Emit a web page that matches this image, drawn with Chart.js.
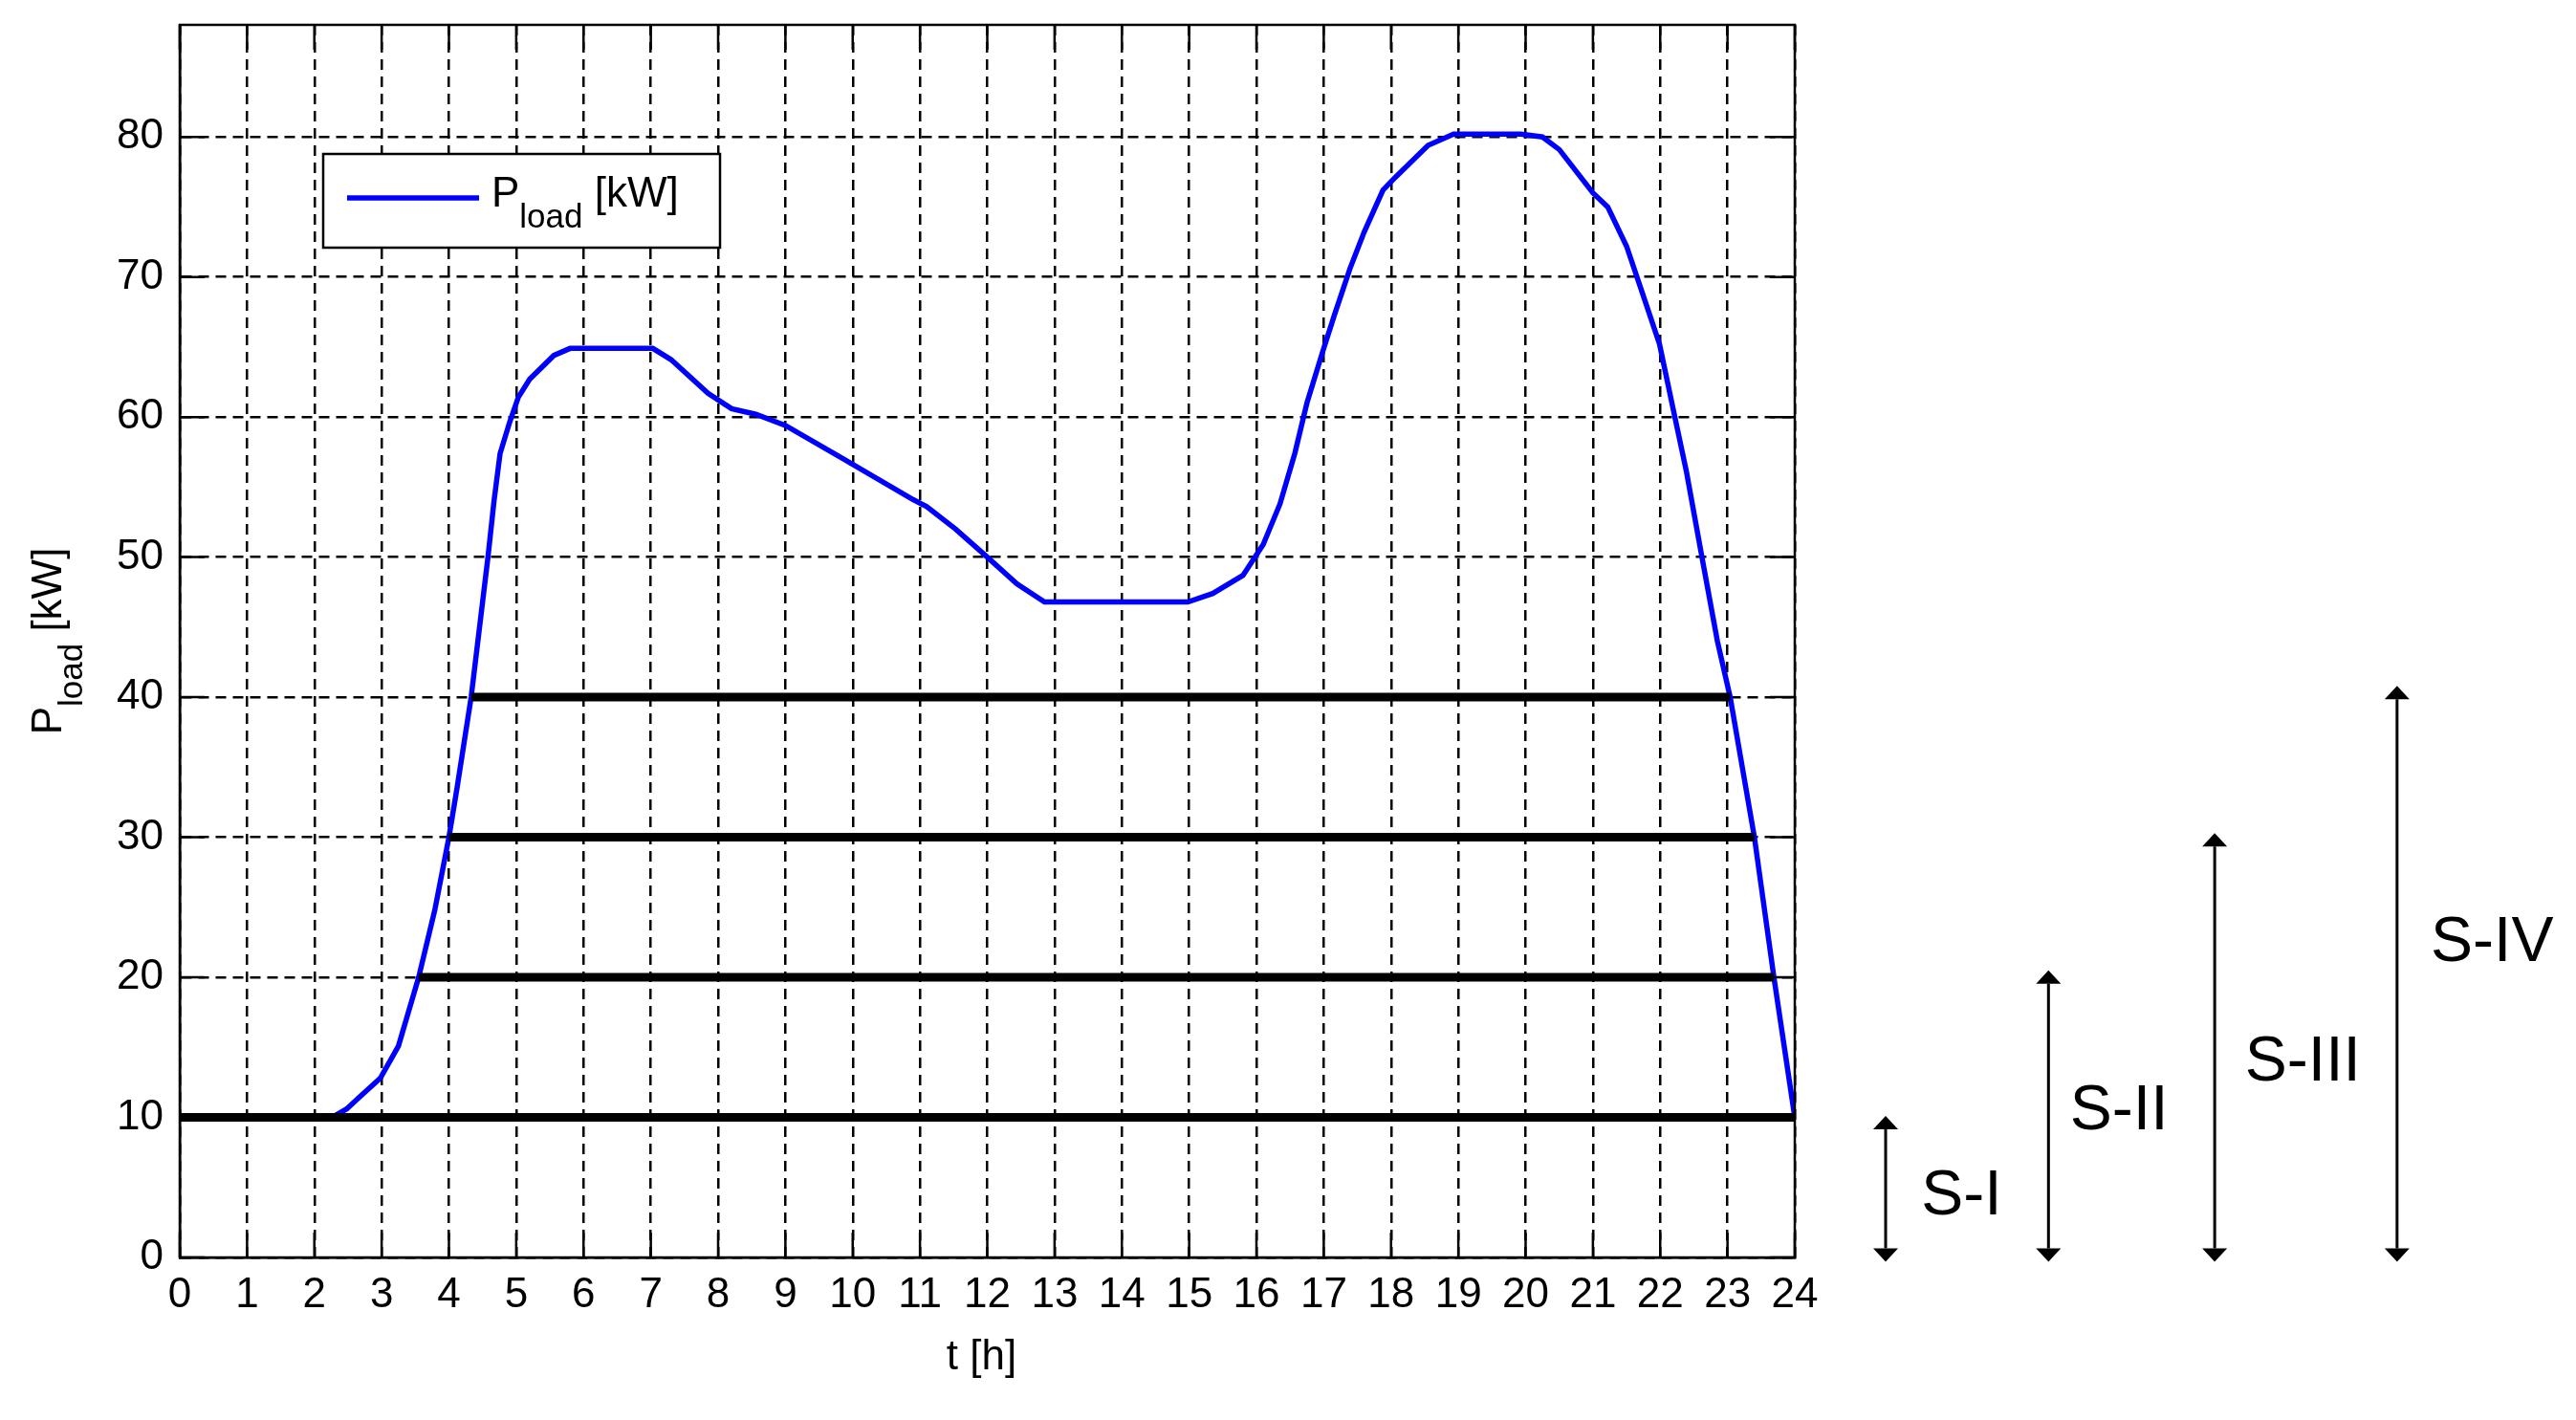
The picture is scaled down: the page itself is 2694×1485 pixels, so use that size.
<!DOCTYPE html>
<html>
<head>
<meta charset="utf-8">
<script src="https://cdn.jsdelivr.net/npm/chart.js@4.4.1/dist/chart.umd.min.js"></script>
<style>
  html, body { margin: 0; padding: 0; background: #fff; }
  #wrap { width: 2694px; height: 1485px; }
</style>
</head>
<body>
<div id="wrap"><canvas id="loadChart" width="2694" height="1485"></canvas></div>
<script>
// daily load profile
const loadHours = [
  2.26, 2.48, 2.66, 2.98, 3.25, 3.55, 3.79, 4.00, 4.12, 4.33,
  4.58, 4.67, 4.76, 4.90, 5.03, 5.20, 5.56, 5.80, 7.03, 7.30,
  7.85, 8.20, 8.56, 9.00, 9.83, 10.90, 11.10, 11.53, 12.00, 12.44,
  12.85, 14.98, 15.35, 15.80, 16.10, 16.35, 16.57, 16.75, 16.98, 17.16,
  17.39, 17.60, 17.88, 18.06, 18.55, 18.93, 19.93, 20.25, 20.50, 21.00,
  21.22, 21.50, 21.76, 21.99, 22.20, 22.39, 22.62, 22.85, 23.04, 23.40,
  23.69, 24.00,
];
const loadKw = [
  10.0, 10.6, 11.4, 12.8, 15.1, 20.0, 24.8, 30.0, 33.5, 40.0,
  50.0, 54.0, 57.4, 59.6, 61.4, 62.7, 64.4, 64.9, 64.9, 64.1,
  61.7, 60.6, 60.2, 59.4, 57.1, 54.1, 53.6, 52.0, 50.0, 48.1,
  46.8, 46.8, 47.4, 48.7, 50.9, 53.8, 57.4, 61.0, 64.6, 67.3,
  70.6, 73.2, 76.2, 77.1, 79.4, 80.2, 80.2, 80.0, 79.1, 76.0,
  75.0, 72.2, 68.5, 65.2, 60.4, 56.1, 50.0, 44.0, 40.0, 30.0,
  20.0, 10.0,
];

// stage thresholds (thick black lines)
const levelKw = [10, 20, 30, 40];
const levelFromHour = [0, 3.55, 4.0, 4.33];
const levelToHour = [24, 23.69, 23.4, 23.04];

// stage arrows to the right of the axes
const stageNames = ['S-I', 'S-II', 'S-III', 'S-IV'];
const stageArrowHour = [25.35, 27.77, 30.24, 32.95];
const stageArrowTopKw = [10.1, 20.5, 30.3, 40.8];
const stageArrowBottomKw = -0.3;
const stageLabelHour = [25.88, 28.09, 30.69, 33.45];
const stageLabelKw = [4.3, 10.4, 13.9, 22.4];

const hourTicks = [0, 1, 2, 3, 4, 5, 6, 7, 8, 9, 10, 11, 12, 13, 14, 15, 16, 17, 18, 19, 20, 21, 22, 23, 24];
const kwTicks = [0, 10, 20, 30, 40, 50, 60, 70, 80];

const FONT = '"Liberation Sans", Arial, sans-serif';

function pLoadParts(size) {
  return [
    { text: 'P', size: size, dy: 0 },
    { text: 'load', size: Math.round(size * 0.8), dy: Math.round(size * 0.5) },
    { text: ' [kW]', size: size, dy: 0 },
  ];
}

function measurePLoad(ctx, size) {
  let w = 0;
  for (const part of pLoadParts(size)) {
    ctx.font = part.size + 'px ' + FONT;
    w += ctx.measureText(part.text).width;
  }
  return w;
}

function drawPLoad(ctx, x, y, size) {
  let cx = x;
  for (const part of pLoadParts(size)) {
    ctx.font = part.size + 'px ' + FONT;
    ctx.fillText(part.text, cx, y + part.dy);
    cx += ctx.measureText(part.text).width;
  }
}

function drawArrow(ctx, px, yTop, yBottom) {
  const head = 14, half = 13;
  ctx.beginPath();
  ctx.moveTo(px, yTop + head);
  ctx.lineTo(px, yBottom - head);
  ctx.stroke();
  ctx.beginPath();
  ctx.moveTo(px, yTop);
  ctx.lineTo(px - half, yTop + head);
  ctx.lineTo(px + half, yTop + head);
  ctx.closePath();
  ctx.fill();
  ctx.beginPath();
  ctx.moveTo(px, yBottom);
  ctx.lineTo(px - half, yBottom - head);
  ctx.lineTo(px + half, yBottom - head);
  ctx.closePath();
  ctx.fill();
}

const matlabFrame = {
  id: 'matlabFrame',
  afterDatasetsDraw(chart) {
    const { ctx, chartArea: a, scales: { x, y } } = chart;
    const tick = 26;
    ctx.save();
    ctx.strokeStyle = '#000';
    ctx.lineWidth = 2.5;
    ctx.beginPath();
    // inward ticks on all four sides, like the MATLAB box
    hourTicks.forEach(h => {
      const px = x.getPixelForValue(h);
      ctx.moveTo(px, a.bottom); ctx.lineTo(px, a.bottom - tick);
      ctx.moveTo(px, a.top); ctx.lineTo(px, a.top + tick);
    });
    kwTicks.forEach(v => {
      const py = y.getPixelForValue(v);
      ctx.moveTo(a.left, py); ctx.lineTo(a.left + tick, py);
      ctx.moveTo(a.right, py); ctx.lineTo(a.right - tick, py);
    });
    ctx.stroke();
    ctx.strokeRect(a.left, a.top, a.right - a.left, a.bottom - a.top);
    ctx.restore();
  },
  afterDraw(chart) {
    const { ctx, chartArea: a, scales: { x, y } } = chart;
    ctx.save();
    ctx.fillStyle = '#000';
    ctx.strokeStyle = '#000';
    ctx.textBaseline = 'alphabetic';
    ctx.textAlign = 'left';

    // legend box
    const lx = a.left + 150, ly = a.top + 135;
    ctx.fillStyle = '#fff';
    ctx.fillRect(lx, ly, 415, 98);
    ctx.lineWidth = 2.5;
    ctx.strokeRect(lx, ly, 415, 98);
    ctx.strokeStyle = '#0000ff';
    ctx.lineWidth = 5.5;
    ctx.beginPath();
    ctx.moveTo(lx + 25, ly + 46);
    ctx.lineTo(lx + 163, ly + 46);
    ctx.stroke();
    ctx.fillStyle = '#000';
    drawPLoad(ctx, lx + 176, ly + 55, 44);

    // y axis title, rotated
    const yw = measurePLoad(ctx, 44);
    ctx.save();
    ctx.translate(64, (a.top + a.bottom) / 2);
    ctx.rotate(-Math.PI / 2);
    drawPLoad(ctx, -yw / 2, 0, 44);
    ctx.restore();

    // x axis title
    ctx.font = '44px ' + FONT;
    ctx.textAlign = 'center';
    ctx.fillText('t [h]', (a.left + a.right) / 2 - 6, a.bottom + 117);

    // stage arrows and labels
    ctx.strokeStyle = '#000';
    ctx.lineWidth = 3;
    ctx.textAlign = 'left';
    ctx.textBaseline = 'middle';
    ctx.font = '66px ' + FONT;
    stageNames.forEach((name, i) => {
      const px = x.getPixelForValue(stageArrowHour[i]);
      drawArrow(ctx, px, y.getPixelForValue(stageArrowTopKw[i]), y.getPixelForValue(stageArrowBottomKw));
      ctx.fillText(name, x.getPixelForValue(stageLabelHour[i]), y.getPixelForValue(stageLabelKw[i]));
    });
    ctx.restore();
  },
};

const levelDatasets = levelKw.map((kw, i) => ({
  label: 'S' + (i + 1),
  data: [{ x: levelFromHour[i], y: kw }, { x: levelToHour[i], y: kw }],
  borderColor: '#000',
  borderWidth: 9,
  pointRadius: 0,
  tension: 0,
}));

const tickFont = { family: FONT, size: 44 };

// keep the plot box exactly where the figure has it
function noEdgePadding(scale) {
  scale.paddingTop = 0;
  scale.paddingBottom = 0;
  scale.paddingLeft = 0;
  scale.paddingRight = 0;
}

new Chart(document.getElementById('loadChart').getContext('2d'), {
  type: 'line',
  data: {
    datasets: [
      ...levelDatasets,
      {
        label: 'P_load [kW]',
        data: loadHours.map((h, i) => ({ x: h, y: loadKw[i] })),
        borderColor: '#0000ff',
        borderWidth: 5.5,
        pointRadius: 0,
        tension: 0,
      },
    ],
  },
  options: {
    responsive: false,
    animation: false,
    devicePixelRatio: 1,
    layout: { padding: { top: 26, right: 817, bottom: 0, left: 0 } },
    plugins: { legend: { display: false }, tooltip: { enabled: false } },
    scales: {
      x: {
        type: 'linear',
        min: 0,
        max: 24,
        afterBuildTicks: axis => { axis.ticks = hourTicks.map(value => ({ value })); },
        afterFit: scale => { scale.height = 170; noEdgePadding(scale); },
        grid: { color: '#000', lineWidth: 2.5, drawTicks: false },
        border: { display: true, color: '#000', width: 2.5, dash: [11, 7] },
        ticks: { color: '#000', font: tickFont, padding: 13, maxRotation: 0, autoSkip: false },
      },
      y: {
        type: 'linear',
        min: 0,
        max: 88,
        afterBuildTicks: axis => { axis.ticks = kwTicks.map(value => ({ value })); },
        afterFit: scale => { scale.width = 188; noEdgePadding(scale); },
        grid: { color: '#000', lineWidth: 2.5, drawTicks: false },
        border: { display: true, color: '#000', width: 2.5, dash: [11, 7] },
        ticks: { color: '#000', font: tickFont, padding: 17 },
      },
    },
  },
  plugins: [matlabFrame],
});
</script>
</body>
</html>
